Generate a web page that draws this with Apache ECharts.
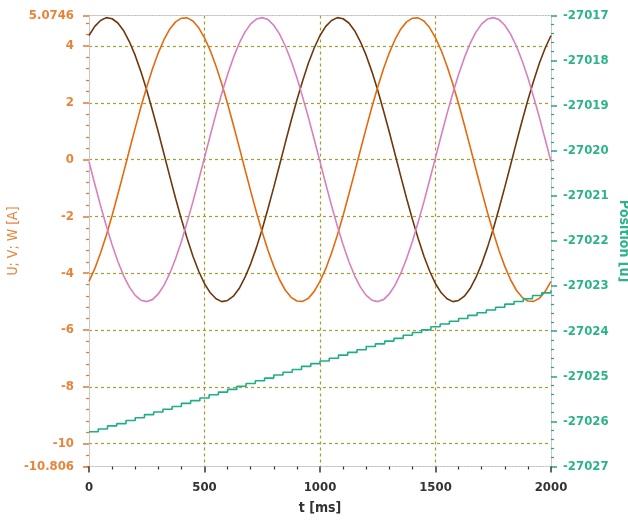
<!DOCTYPE html>
<html><head><meta charset="utf-8">
<script src="https://cdn.jsdelivr.net/npm/echarts@6/dist/echarts.min.js"></script>
<style>html,body{margin:0;padding:0;background:#fff}#c{width:628px;height:520px}</style>
</head><body><div id="c"></div>
<script>
// time samples [ms]
const timeMs = [0,25,50,75,100,125,150,175,200,225,250,275,300,325,350,375,400,425,450,475,
  500,525,550,575,600,625,650,675,700,725,750,775,800,825,850,875,900,925,950,975,
  1000,1025,1050,1075,1100,1125,1150,1175,1200,1225,1250,1275,1300,1325,1350,1375,1400,1425,1450,1475,
  1500,1525,1550,1575,1600,1625,1650,1675,1700,1725,1750,1775,1800,1825,1850,1875,1900,1925,1950,1975,2000];
// phase currents [A]
const phaseU = [4.37,4.69,4.90,5.00,4.96,4.81,4.54,4.15,3.67,3.09,2.44,1.72,0.97,0.19,-0.60,-1.37,-2.10,-2.78,-3.40,-3.93,
  -4.37,-4.69,-4.90,-5.00,-4.96,-4.81,-4.54,-4.15,-3.67,-3.09,-2.44,-1.72,-0.97,-0.19,0.60,1.37,2.10,2.78,3.40,3.93,
  4.37,4.69,4.90,5.00,4.96,4.81,4.54,4.15,3.67,3.09,2.44,1.72,0.97,0.19,-0.60,-1.37,-2.10,-2.78,-3.40,-3.93,
  -4.37,-4.69,-4.90,-5.00,-4.96,-4.81,-4.54,-4.15,-3.67,-3.09,-2.44,-1.72,-0.97,-0.19,0.60,1.37,2.10,2.78,3.40,3.93,4.37];
const phaseV = [-4.29,-3.84,-3.29,-2.66,-1.97,-1.22,-0.45,0.34,1.11,1.86,2.56,3.20,3.76,4.23,4.60,4.85,4.98,4.99,4.88,4.64,
  4.29,3.84,3.29,2.66,1.97,1.22,0.45,-0.34,-1.11,-1.86,-2.56,-3.20,-3.76,-4.23,-4.60,-4.85,-4.98,-4.99,-4.88,-4.64,
  -4.29,-3.84,-3.29,-2.66,-1.97,-1.22,-0.45,0.34,1.11,1.86,2.56,3.20,3.76,4.23,4.60,4.85,4.98,4.99,4.88,4.64,
  4.29,3.84,3.29,2.66,1.97,1.22,0.45,-0.34,-1.11,-1.86,-2.56,-3.20,-3.76,-4.23,-4.60,-4.85,-4.98,-4.99,-4.88,-4.64,-4.29];
const phaseW = [-0.07,-0.86,-1.62,-2.34,-3.00,-3.59,-4.09,-4.49,-4.78,-4.95,-5.00,-4.93,-4.73,-4.42,-4.00,-3.48,-2.88,-2.20,-1.48,-0.71,
  0.07,0.86,1.62,2.34,3.00,3.59,4.09,4.49,4.78,4.95,5.00,4.93,4.73,4.42,4.00,3.48,2.88,2.20,1.48,0.71,
  -0.07,-0.86,-1.62,-2.34,-3.00,-3.59,-4.09,-4.49,-4.78,-4.95,-5.00,-4.93,-4.73,-4.42,-4.00,-3.48,-2.88,-2.20,-1.48,-0.71,
  0.07,0.86,1.62,2.34,3.00,3.59,4.09,4.49,4.78,4.95,5.00,4.93,4.73,4.42,4.00,3.48,2.88,2.20,1.48,0.71,-0.07];
// position samples
const posTimeMs = [0,40,80,120,160,200,240,280,320,360,400,440,480,520,560,600,640,680,720,760,
  800,840,880,920,960,1000,1040,1080,1120,1160,1200,1240,1280,1320,1360,1400,1440,1480,1520,1560,
  1600,1640,1680,1720,1760,1800,1840,1880,1920,1960,2000];
const position = [-27026.23,-27026.17,-27026.10,-27026.05,-27025.98,-27025.92,-27025.85,-27025.79,-27025.73,-27025.67,
  -27025.60,-27025.54,-27025.48,-27025.41,-27025.35,-27025.29,-27025.22,-27025.16,-27025.10,-27025.04,
  -27024.97,-27024.91,-27024.85,-27024.78,-27024.72,-27024.66,-27024.60,-27024.53,-27024.47,-27024.41,
  -27024.34,-27024.28,-27024.22,-27024.16,-27024.09,-27024.03,-27023.97,-27023.90,-27023.84,-27023.78,
  -27023.72,-27023.65,-27023.59,-27023.53,-27023.47,-27023.40,-27023.34,-27023.28,-27023.21,-27023.15,-27023.09];
// axis ranges
const currentRange = [-10.806, 5.0746];
const positionRange = [-27027, -27017];
const timeRange = [0, 2000];

const FONT = '"Liberation Sans Narrow","DejaVu Sans Condensed",sans-serif';
const ORANGE_LBL = '#e8843a', GREEN_LBL = '#2bb38a';
const GRID_LINE = {show:true, lineStyle:{color:'#a39e2e', type:[3,3], width:1.2}, showMinLine:false, showMaxLine:false};
const BORDER = {show:true, onZero:false, lineStyle:{color:'#c4c4c4', type:[2,1], width:1}};

const pair = (xs, ys) => xs.map((x,i)=>[x, ys[i]]);

const chart = echarts.init(document.getElementById('c'), null, {renderer:'canvas'});
chart.setOption({
  animation:false,
  backgroundColor:'#fff',
  grid:{left:89, right:77, top:15.5, bottom:53.5, containLabel:false, outerBoundsMode:'none'},
  xAxis:[{
    type:'value', min:timeRange[0], max:timeRange[1], interval:500, position:'bottom',
    name:'t [ms]', nameLocation:'middle', nameGap:35, nameMoveOverlap:false,
    nameTextStyle:{color:'#333', fontFamily:FONT, fontSize:14, fontWeight:'bold'},
    axisLine:BORDER,
    axisTick:{show:true, length:6, lineStyle:{color:'#333', width:1.5}},
    minorTick:{show:true, splitNumber:5, length:3, lineStyle:{color:'#333', width:1.2}},
    axisLabel:{color:'#333', fontFamily:FONT, fontSize:13, fontWeight:'bold', margin:15, formatter:v=>String(v)},
    splitLine:GRID_LINE
  },{
    type:'value', min:timeRange[0], max:timeRange[1], position:'top',
    axisLine:BORDER, axisTick:{show:false}, axisLabel:{show:false}, splitLine:{show:false}
  }],
  yAxis:[{
    type:'value', min:currentRange[0], max:currentRange[1], splitNumber:8, position:'left',
    name:'U; V; W [A]', nameLocation:'middle', nameGap:69, nameMoveOverlap:false,
    nameTextStyle:{color:ORANGE_LBL, fontFamily:FONT, fontSize:14},
    axisLine:BORDER,
    axisTick:{show:true, length:6, lineStyle:{color:'#e8762c', width:1.5}},
    minorTick:{show:true, splitNumber:5, length:3, lineStyle:{color:'#e8762c', width:1.2}},
    axisLabel:{color:ORANGE_LBL, fontFamily:FONT, fontSize:13, fontWeight:'bold', margin:15,
      showMinLabel:true, showMaxLabel:true, formatter:v=>String(v)},
    splitLine:GRID_LINE
  },{
    type:'value', min:positionRange[0], max:positionRange[1], interval:1, position:'right',
    name:'Position [u]', nameLocation:'middle', nameGap:66, nameRotate:-90, nameMoveOverlap:false,
    nameTextStyle:{color:GREEN_LBL, fontFamily:FONT, fontSize:14, fontWeight:'bold'},
    axisLine:BORDER,
    axisTick:{show:true, length:6, lineStyle:{color:'#1fa882', width:1.5}},
    minorTick:{show:true, splitNumber:5, length:3, lineStyle:{color:'#1fa882', width:1.2}},
    axisLabel:{color:GREEN_LBL, fontFamily:FONT, fontSize:13, fontWeight:'bold', margin:12, formatter:v=>String(v)},
    splitLine:{show:false}
  }],
  series:[
    {name:'U', type:'line', data:pair(timeMs, phaseU), showSymbol:false, symbol:'none',
      lineStyle:{color:'#6e380c', width:1.6}, yAxisIndex:0, z:3},
    {name:'V', type:'line', data:pair(timeMs, phaseV), showSymbol:false, symbol:'none',
      lineStyle:{color:'#e36a0e', width:1.6}, yAxisIndex:0, z:3},
    {name:'W', type:'line', data:pair(timeMs, phaseW), showSymbol:false, symbol:'none',
      lineStyle:{color:'#d97fbd', width:1.6}, yAxisIndex:0, z:3},
    {name:'Position', type:'line', data:pair(posTimeMs, position), step:'end', showSymbol:false, symbol:'none',
      lineStyle:{color:'#1fae86', width:1.6}, yAxisIndex:1, z:4}
  ]
});
</script></body></html>
